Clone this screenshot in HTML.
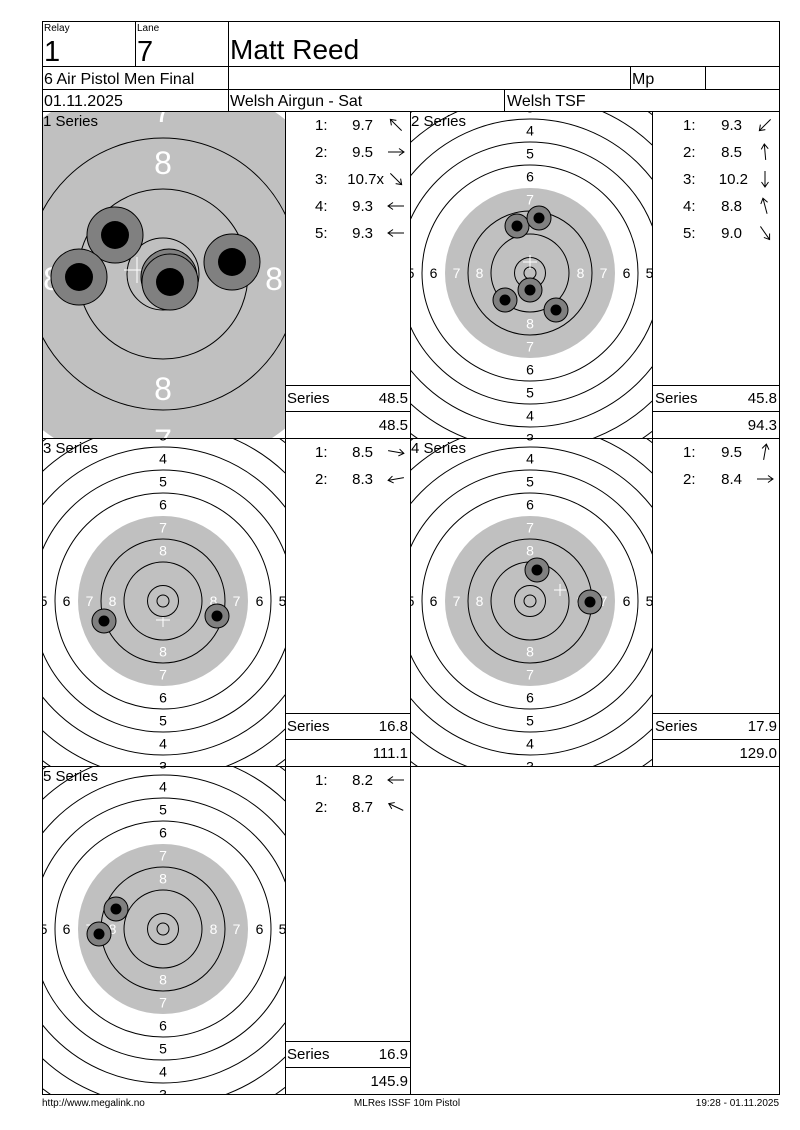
<!DOCTYPE html>
<html><head><meta charset="utf-8"><style>
html,body{margin:0;padding:0;background:#fff;}
svg{display:block;font-family:"Liberation Sans",sans-serif;}
</style></head><body>
<svg width="800" height="1130" viewBox="0 0 800 1130" xmlns="http://www.w3.org/2000/svg">
<defs>
<clipPath id="c1"><rect x="43" y="112" width="242" height="326"/></clipPath>
<clipPath id="c2"><rect x="411" y="112" width="241" height="326"/></clipPath>
<clipPath id="c3"><rect x="43" y="439" width="242" height="327"/></clipPath>
<clipPath id="c4"><rect x="411" y="439" width="241" height="327"/></clipPath>
<clipPath id="c5"><rect x="43" y="767" width="242" height="327"/></clipPath>
<g id="tgt">
<circle r="85" fill="#c0c0c0"/>
<g fill="none" stroke="#000" stroke-width="1">
<circle r="6"/><circle r="15.5"/><circle r="39"/><circle r="62"/>
<circle r="108"/><circle r="131"/><circle r="154"/><circle r="177"/><circle r="200"/><circle r="223"/>
</g>
<g font-size="14" text-anchor="middle">
<g fill="#fff">
<text x="0" y="-45.5">8</text><text x="0" y="-68.5">7</text>
<text x="0" y="55.5">8</text><text x="0" y="78.5">7</text>
<text x="-50.5" y="5">8</text><text x="-73.5" y="5">7</text>
<text x="50.5" y="5">8</text><text x="73.5" y="5">7</text>
</g>
<text x="0" y="-91.5">6</text><text x="0" y="-114.5">5</text><text x="0" y="-137.5">4</text><text x="0" y="-160.5">3</text>
<text x="0" y="101.5">6</text><text x="0" y="124.5">5</text><text x="0" y="147.5">4</text><text x="0" y="170.5">3</text>
<text x="-96.5" y="5">6</text><text x="-119.5" y="5">5</text>
<text x="96.5" y="5">6</text><text x="119.5" y="5">5</text>
</g>
</g>
<g id="shot"><circle r="12" fill="#808080" stroke="#000"/><circle r="5.5" fill="#000"/></g>
<g id="bshot"><circle r="28" fill="#808080" stroke="#000"/><circle r="14" fill="#000"/></g>
<g id="arr" fill="none" stroke="#000" stroke-width="1"><line x1="-8" y1="0" x2="8" y2="0"/><polyline points="3,-3.5 8,0 3,3.5"/></g>
</defs>

<!-- Series 1 zoomed -->
<g clip-path="url(#c1)">
<circle cx="163" cy="274" r="197" fill="#c0c0c0"/>
<g fill="none" stroke="#000">
<circle cx="163" cy="274" r="36"/><circle cx="163" cy="274" r="85"/><circle cx="163" cy="274" r="136"/>
</g>
<g fill="#fff" font-size="32" text-anchor="middle">
<text x="163" y="174">8</text><text x="163" y="400">8</text>
<text x="52" y="290">8</text><text x="274" y="290">8</text>
<text x="163" y="122">7</text><text x="163" y="452">7</text>
</g>
<g stroke="#fff" stroke-width="1"><line x1="124" y1="270" x2="150" y2="270"/><line x1="137" y1="257" x2="137" y2="283"/></g>
<use href="#bshot" x="115" y="235"/>
<use href="#bshot" x="79" y="277"/>
<use href="#bshot" x="169" y="277"/>
<use href="#bshot" x="170" y="282"/>
<use href="#bshot" x="232" y="262"/>
</g>

<g clip-path="url(#c2)"><use href="#tgt" x="530" y="273"/>
<g stroke="#fff"><line x1="523" y1="262" x2="537" y2="262"/><line x1="530" y1="255" x2="530" y2="269"/></g>
<use href="#shot" x="517" y="226"/><use href="#shot" x="539" y="218"/><use href="#shot" x="530" y="290"/><use href="#shot" x="505" y="300"/><use href="#shot" x="556" y="310"/></g>
<g clip-path="url(#c3)"><use href="#tgt" x="163" y="601"/>
<g stroke="#fff"><line x1="156" y1="620" x2="170" y2="620"/><line x1="163" y1="617" x2="163" y2="627"/></g>
<use href="#shot" x="104" y="621"/><use href="#shot" x="217" y="616"/></g>
<g clip-path="url(#c4)"><use href="#tgt" x="530" y="601"/>
<g stroke="#fff"><line x1="554" y1="590" x2="566" y2="590"/><line x1="560" y1="584" x2="560" y2="596"/></g>
<use href="#shot" x="537" y="570"/><use href="#shot" x="590" y="602"/></g>
<g clip-path="url(#c5)"><use href="#tgt" x="163" y="929"/>
<use href="#shot" x="116" y="909"/><use href="#shot" x="99" y="934"/></g>

<!-- grid -->
<g fill="none" stroke="#000" stroke-width="1">
<rect x="42.5" y="21.5" width="737" height="1073"/>
<line x1="42" y1="66.5" x2="780" y2="66.5"/>
<line x1="42" y1="89.5" x2="780" y2="89.5"/>
<line x1="42" y1="111.5" x2="780" y2="111.5"/>
<line x1="135.5" y1="21" x2="135.5" y2="66"/>
<line x1="228.5" y1="21" x2="228.5" y2="111"/>
<line x1="630.5" y1="66" x2="630.5" y2="89"/>
<line x1="705.5" y1="66" x2="705.5" y2="89"/>
<line x1="504.5" y1="89" x2="504.5" y2="111"/>
<line x1="285.5" y1="111" x2="285.5" y2="1094"/>
<line x1="410.5" y1="111" x2="410.5" y2="1094"/>
<line x1="652.5" y1="111" x2="652.5" y2="766"/>
<line x1="42" y1="438.5" x2="780" y2="438.5"/>
<line x1="42" y1="766.5" x2="780" y2="766.5"/>
<line x1="285" y1="385.5" x2="410" y2="385.5"/><line x1="285" y1="411.5" x2="410" y2="411.5"/>
<line x1="652" y1="385.5" x2="780" y2="385.5"/><line x1="652" y1="411.5" x2="780" y2="411.5"/>
<line x1="285" y1="713.5" x2="410" y2="713.5"/><line x1="285" y1="739.5" x2="410" y2="739.5"/>
<line x1="652" y1="713.5" x2="780" y2="713.5"/><line x1="652" y1="739.5" x2="780" y2="739.5"/>
<line x1="285" y1="1041.5" x2="410" y2="1041.5"/><line x1="285" y1="1067.5" x2="410" y2="1067.5"/>
</g>

<!-- header text -->
<g fill="#000">
<text x="44" y="31" font-size="10">Relay</text>
<text x="137" y="31" font-size="10">Lane</text>
<text x="44" y="61" font-size="29">1</text>
<text x="137" y="61" font-size="29">7</text>
<text x="230" y="59" font-size="28">Matt Reed</text>
<text x="44" y="84" font-size="16">6 Air Pistol Men Final</text>
<text x="632" y="84" font-size="16">Mp</text>
<text x="44" y="106" font-size="16">01.11.2025</text>
<text x="230" y="106" font-size="16">Welsh Airgun - Sat</text>
<text x="507" y="106" font-size="16">Welsh TSF</text>
<g font-size="15">
<text x="43" y="126">1 Series</text>
<text x="411" y="126">2 Series</text>
<text x="43" y="453">3 Series</text>
<text x="411" y="453">4 Series</text>
<text x="43" y="781">5 Series</text>
</g>
<!-- shot lists -->
<g font-size="15">
<text x="315" y="130">1:</text><text x="315" y="157">2:</text><text x="315" y="184">3:</text><text x="315" y="211">4:</text><text x="315" y="238">5:</text>
<g text-anchor="end"><text x="373" y="130">9.7</text><text x="373" y="157">9.5</text><text x="384" y="184">10.7x</text><text x="373" y="211">9.3</text><text x="373" y="238">9.3</text></g>
<text x="683" y="130">1:</text><text x="683" y="157">2:</text><text x="683" y="184">3:</text><text x="683" y="211">4:</text><text x="683" y="238">5:</text>
<g text-anchor="end"><text x="742" y="130">9.3</text><text x="742" y="157">8.5</text><text x="748" y="184">10.2</text><text x="742" y="211">8.8</text><text x="742" y="238">9.0</text></g>
<text x="315" y="457">1:</text><text x="315" y="484">2:</text>
<g text-anchor="end"><text x="373" y="457">8.5</text><text x="373" y="484">8.3</text></g>
<text x="683" y="457">1:</text><text x="683" y="484">2:</text>
<g text-anchor="end"><text x="742" y="457">9.5</text><text x="742" y="484">8.4</text></g>
<text x="315" y="785">1:</text><text x="315" y="812">2:</text>
<g text-anchor="end"><text x="373" y="785">8.2</text><text x="373" y="812">8.7</text></g>
<!-- series totals -->
<text x="287" y="403">Series</text><text x="408" y="403" text-anchor="end">48.5</text><text x="408" y="430" text-anchor="end">48.5</text>
<text x="655" y="403">Series</text><text x="777" y="403" text-anchor="end">45.8</text><text x="777" y="430" text-anchor="end">94.3</text>
<text x="287" y="731">Series</text><text x="408" y="731" text-anchor="end">16.8</text><text x="408" y="758" text-anchor="end">111.1</text>
<text x="655" y="731">Series</text><text x="777" y="731" text-anchor="end">17.9</text><text x="777" y="758" text-anchor="end">129.0</text>
<text x="287" y="1059">Series</text><text x="408" y="1059" text-anchor="end">16.9</text><text x="408" y="1086" text-anchor="end">145.9</text>
</g>
<!-- footer -->
<g font-size="10">
<text x="42" y="1106">http://www.megalink.no</text>
<text x="407" y="1106" text-anchor="middle">MLRes ISSF 10m Pistol</text>
<text x="779" y="1106" text-anchor="end">19:28 - 01.11.2025</text>
</g>
</g>
<!-- arrows -->
<use href="#arr" transform="translate(396,125) rotate(-135)"/>
<use href="#arr" transform="translate(396,152) rotate(0)"/>
<use href="#arr" transform="translate(396,179) rotate(45)"/>
<use href="#arr" transform="translate(396,206) rotate(180)"/>
<use href="#arr" transform="translate(396,233) rotate(180)"/>
<use href="#arr" transform="translate(765,125) rotate(135)"/>
<use href="#arr" transform="translate(765,152) rotate(-95)"/>
<use href="#arr" transform="translate(765,179) rotate(90)"/>
<use href="#arr" transform="translate(765,206) rotate(-105)"/>
<use href="#arr" transform="translate(765,233) rotate(55)"/>
<use href="#arr" transform="translate(396,452) rotate(10)"/>
<use href="#arr" transform="translate(396,479) rotate(170)"/>
<use href="#arr" transform="translate(765,452) rotate(-80)"/>
<use href="#arr" transform="translate(765,479) rotate(0)"/>
<use href="#arr" transform="translate(396,780) rotate(180)"/>
<use href="#arr" transform="translate(396,807) rotate(-155)"/>
</svg>
</body></html>
